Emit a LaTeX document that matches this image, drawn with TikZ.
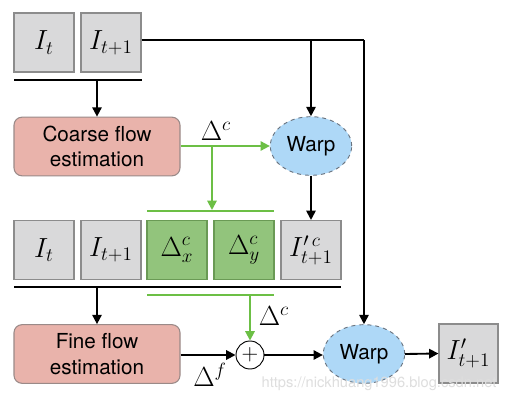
\documentclass[tikz,border=0pt]{standalone}
\usepackage{fontspec}
\usepackage{graphicx}
\setmainfont{TeX Gyre Heros}
\usetikzlibrary{arrows.meta,shapes.geometric}
\definecolor{boxgray}{HTML}{D9D9DA}
\definecolor{boxedge}{HTML}{8C8C8C}
\definecolor{greenfill}{HTML}{92C47C}
\definecolor{greenedge}{HTML}{6A9A55}
\definecolor{pinkfill}{HTML}{E9B3AB}
\definecolor{pinkedge}{HTML}{9A8A88}
\definecolor{bluefill}{HTML}{AED8F7}
\definecolor{blueedge}{HTML}{6A7480}
\definecolor{lgreen}{HTML}{6CBF45}
\newcommand{\scmath}[1]{\scalebox{1.2}{$#1$}}
\begin{document}
\begin{tikzpicture}[x=0.75pt,y=-0.75pt,
  imgbox/.style={draw=boxedge,fill=boxgray,line width=0.8pt,minimum width=45pt,minimum height=44.25pt,inner sep=0pt,font=\fontsize{17}{20}\selectfont},
  grbox/.style={imgbox,draw=greenedge,fill=greenfill},
  procbox/.style={draw=pinkedge,fill=pinkfill,line width=0.8pt,rounded corners=6pt,minimum width=124.5pt,minimum height=44pt,inner sep=0pt,align=center,font=\fontsize{15.5}{19}\selectfont},
  warpnode/.style={ellipse,draw=blueedge,dashed,fill=bluefill,line width=0.7pt,minimum width=61pt,minimum height=44pt,inner sep=0pt,font=\fontsize{15.5}{19}\selectfont},
  plusnode/.style={circle,draw=black,line width=0.7pt,fill=white,minimum size=21pt,inner sep=0pt,font=\fontsize{17}{20}\selectfont},
  blk/.style={line width=1.4pt,black},
  blkarr/.style={blk,-{Triangle[length=7pt,width=7pt]}},
  grn/.style={line width=1.4pt,lgreen},
  grnarr/.style={grn,-{Triangle[length=7pt,width=7pt]}},
  lbl/.style={inner sep=0pt,font=\fontsize{17}{20}\selectfont},
  wmark/.style={inner sep=0pt,text=black!13,font=\fontsize{11}{13}\selectfont}
]
\useasboundingbox (0,0) rectangle (508,403);
\fill[white] (0,0) rectangle (508,403);

% top row
\node[imgbox] (a1) at (44,42.5) {\scmath{I_t}};
\node[imgbox] (a2) at (111,42.5) {\scmath{I_{t+1}}};
\coordinate (b1l) at (14,80);
\coordinate (b1r) at (142,80);
\draw[blk] (b1l) -- (b1r);
\coordinate (b1m) at (97,80);

\node[procbox] (coarse) at (97,146.5) {Coarse flow\\estimation};
\draw[blkarr] (b1m) -- (coarse.north -| b1m);

\node[warpnode] (w1) at (311,146) {Warp};

% top feed line
\coordinate (tr) at (364,40);
\coordinate (tm) at (311,40);

% middle row
\node[imgbox] (m1) at (44,250) {\scmath{I_t}};
\node[imgbox] (m2) at (111,250) {\scmath{I_{t+1}}};
\node[grbox] (dx) at (177,250) {\scmath{\Delta^c_x}};
\node[grbox] (dy) at (244,250) {\scmath{\Delta^c_y}};
\node[imgbox] (ic) at (311,250) {\scmath{I'^{\,c}_{t+1}}};

\node[warpnode] (w2) at (364,354) {Warp};
\node[imgbox,minimum width=44.25pt] (out) at (468.5,353.5) {\scmath{I'_{t+1}}};

\draw[blk] (a2.east |- tr) -- (tr);
\draw[blkarr] (tr) -- (w2.north);
\draw[blkarr] (tm) -- (w1.north);
\draw[blkarr] (w1.south) -- (ic.north);

% green lines top
\coordinate (gsplit) at (212,146);
\coordinate (gend) at (212,210);
\coordinate (g1l) at (147,211);
\coordinate (g1r) at (274,211);
\draw[grnarr] (coarse.east |- gsplit) -- (w1.west |- gsplit);
\draw[grnarr] (gsplit) -- (gend);
\draw[grn] (g1l) -- (g1r);
\node[lbl] (lc1) at (216,131) {\scmath{\Delta^c}};

% bottom bars
\coordinate (b2l) at (14,287);
\coordinate (b2r) at (341,287);
\draw[blk] (b2l) -- (b2r);
\coordinate (b2m) at (97,287);
\coordinate (g2l) at (147,295);
\coordinate (g2r) at (274,295);
\draw[grn] (g2l) -- (g2r);
\coordinate (g2m) at (250,295);

\node[procbox] (fine) at (97,354) {Fine flow\\estimation};
\draw[blkarr] (b2m) -- (fine.north -| b2m);

\node[plusnode] (plus) at (250,355) {$+$};
\draw[grnarr] (g2m) -- (plus.north);
\draw[blkarr] (fine.east |- plus) -- (plus.west);
\draw[blkarr] (plus.east) -- (w2.west |- plus);
\draw[blkarr] (w2.east) -- (out.west);

\node[lbl] (lc2) at (274,316) {\scmath{\Delta^c}};
\node[lbl] (lf) at (210,375) {\scmath{\Delta^f}};

\node[wmark] (wm) at (379,384) {https://nickhuang1996.blog.csdn.net};
\end{tikzpicture}
\end{document}
